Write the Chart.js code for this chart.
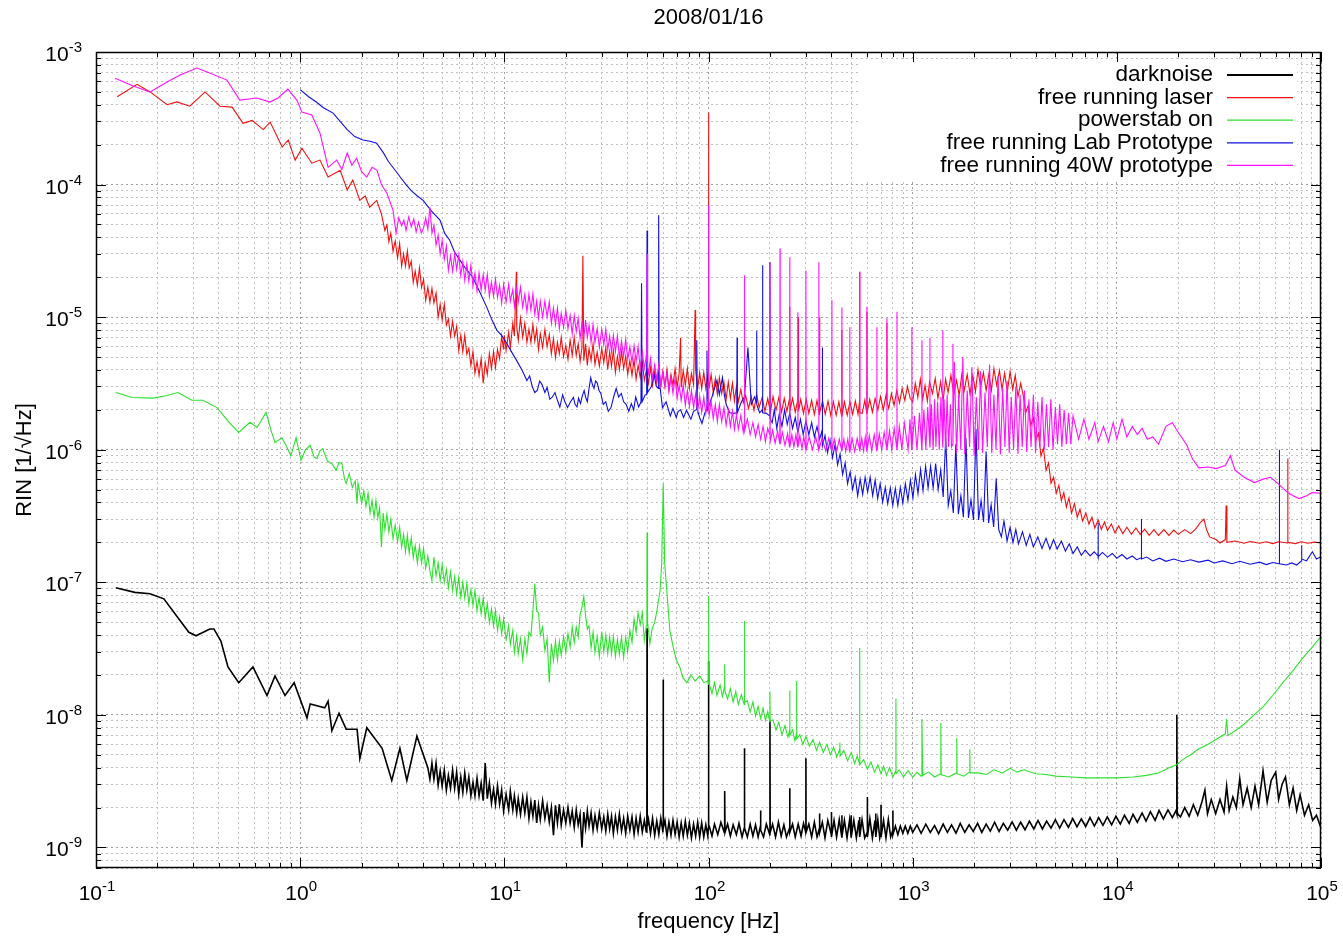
<!DOCTYPE html>
<html><head><meta charset="utf-8">
<script src="https://cdn.jsdelivr.net/npm/chart.js@4.4.1/dist/chart.umd.min.js"></script>
<style>html,body{margin:0;padding:0;background:#fff}#wrap{width:1343px;height:939px;position:relative}</style>
</head><body><div id="wrap"><canvas id="c"></canvas></div>
<script>
const chartTitle = '2008/01/16';
const xTitle = 'frequency [Hz]';
const yTitle = 'RIN [1/\u221AHz]';
const xMajorTicks = [0.1, 1, 10, 100, 1000, 10000, 100000];
const xTickExponents = ['-1', '0', '1', '2', '3', '4', '5'];
const yMajorTicks = [1e-9, 1e-8, 1e-7, 1e-6, 1e-5, 1e-4, 1e-3];
const yTickExponents = ['-9', '-8', '-7', '-6', '-5', '-4', '-3'];
const tickBase = '10';
const seriesNames = ['darknoise', 'free running laser', 'powerstab on', 'free running Lab Prototype', 'free running 40W prototype'];
const seriesColors = ['#000000', '#f01010', '#2ee02e', '#1010e0', '#ff10ff'];

const darknoise = [
[0.125,9.1e-8],[0.155,8.4e-8],[0.184,8.2e-8],[0.215,7.5e-8],[0.252,5.4e-8],[0.285,4.2e-8],[0.309,3.95e-8],[0.361,4.45e-8],[0.378,4.45e-8],[0.409,3.6e-8],[0.443,2.3e-8],[0.50,1.75e-8],[0.587,2.3e-8],[0.688,1.4e-8],[0.753,1.97e-8],[0.843,1.4e-8],[0.934,1.75e-8],[1.08,9.5e-9],[1.12,1.21e-8],[1.32,1.13e-8],[1.37,1.27e-8],[1.43,7.6e-9],[1.55,1.03e-8],[1.68,7.8e-9],[1.90,7.8e-9],[1.96,4.7e-9],[2.12,8.0e-9],[2.52,5.6e-9],[2.81,3.2e-9],[3.08,5.6e-9],[3.33,3.2e-9],[3.73,6.9e-9],[4.22,4.0e-9],
[4.32,3.27e-9],[4.42,4.33e-9],[4.52,3.27e-9],[4.63,4.33e-9],[4.74,2.95e-9],[4.85,3.77e-9],[4.96,2.9e-9],[5.08,3.83e-9],[5.2,2.7e-9],[5.32,3.5e-9],[5.45,2.8e-9],[5.58,3.83e-9],[5.71,2.8e-9],[5.84,3.7e-9],[5.98,2.52e-9],[6.12,3.4e-9],[6.26,2.6e-9],[6.4,3.64e-9],[6.55,2.7e-9],[6.7,3.4e-9],[6.86,2.45e-9],[7.02,3.1e-9],[7.18,2.45e-9],[7.35,3.33e-9],[7.52,2.45e-9],[7.7,3.06e-9],[7.88,2.25e-9],[8.06,4.33e-9],[8.25,2.33e-9],[8.45,3.06e-9],[8.65,2.16e-9],[8.85,2.75e-9],[9.05,2.12e-9],[9.26,2.9e-9],[9.48,2.12e-9],[9.7,2.7e-9],[9.92,1.88e-9],[10.2,2.52e-9],[10.5,1.92e-9],[10.7,2.66e-9],[11.0,1.92e-9],[11.2,2.45e-9],[11.5,1.82e-9],[11.7,2.33e-9],[12.0,1.78e-9],[12.3,2.4e-9],[12.6,1.82e-9],[12.9,2.4e-9],[13.2,1.66e-9],[13.5,2.2e-9],[13.8,1.72e-9],[14.1,2.28e-9],[14.4,1.53e-9],[14.7,2.08e-9],[15.0,1.63e-9],[15.4,2.25e-9],[15.8,1.66e-9],[16.2,2.08e-9],[16.6,1.56e-9],[17.0,2.0e-9],[17.4,1.24e-9],[17.8,2.08e-9],[18.2,1.53e-9],[18.6,2.12e-9],[19.0,1.48e-9],[19.5,1.92e-9],[20.0,1.53e-9],[20.5,2.0e-9],[21.0,1.53e-9],[21.5,1.88e-9],[22.0,1.42e-9],[22.5,1.92e-9],[23.0,1.48e-9],[23.5,1.78e-9],[24.0,1.0e-9],[24.5,1.85e-9],[25.0,1.4e-9],[25.5,1.88e-9],[26.0,1.45e-9],[26.6,1.82e-9],[27.2,1.35e-9],[27.8,1.74e-9],[28.5,1.38e-9],[29.2,1.82e-9],[30.0,1.38e-9],[30.7,1.7e-9],[31.4,1.33e-9],[32.1,1.78e-9],[32.8,1.38e-9],[33.5,1.72e-9],[34.2,1.28e-9],[35.0,1.7e-9],[35.8,1.35e-9],[36.6,1.78e-9],[37.5,1.33e-9],[38.4,1.66e-9],[39.3,1.28e-9],[40.2,1.72e-9],[41.2,1.35e-9],[42.2,1.7e-9],[43.2,1.26e-9],[44.2,1.66e-9],[45.2,1.31e-9],[46.3,1.72e-9],[47.4,1.31e-9],[48.5,1.6e-9],[49.6,1.31e-9],[49.9,1.45e-9],[50,4.5e-8],[50.1,1.45e-9],[50.8,1.63e-9],[52.0,1.28e-9],[53.2,1.66e-9],[54.5,1.24e-9],[55.8,1.58e-9],[57.1,1.26e-9],[58.4,1.66e-9],[59.8,1.31e-9],[59.9,1.4e-9],[60,1.85e-8],[60.1,1.4e-9],[61.2,1.6e-9],[62.6,1.22e-9],[64.0,1.55e-9],[65.5,1.24e-9],[67.0,1.6e-9],[68.6,1.26e-9],[70.2,1.55e-9],[71.8,1.2e-9],[73.5,1.53e-9],[75.2,1.22e-9],[77.0,1.58e-9],[78.8,1.24e-9],[80.6,1.53e-9],[82.5,1.18e-9],[84.5,1.5e-9],[86.5,1.22e-9],[88.5,1.55e-9],[90.5,1.2e-9],[92.6,1.53e-9],[94.8,1.2e-9],[97.0,1.48e-9],[99.2,1.22e-9],[99.8,1.4e-9],[100,2.55e-8],[100.3,1.45e-9],
[100.8,1.45e-9],[104,1.22e-9],[107,1.5e-9],[111,1.25e-9],[115,1.55e-9],[119.5,1.3e-9],[120,2.67e-9],[120.5,1.3e-9],[124,1.5e-9],[128,1.22e-9],[132,1.48e-9],[137,1.25e-9],[141,1.52e-9],[146,1.2e-9],[149.7,1.4e-9],[150,5.6e-9],[150.3,1.4e-9],[155,1.2e-9],[160,1.5e-9],[165,1.22e-9],[170,1.48e-9],[175,1.2e-9],[179.7,1.45e-9],[180,1.9e-9],[180.3,1.35e-9],[186,1.2e-9],[192,1.5e-9],[199.5,1.25e-9],[200,9e-9],[200.5,1.3e-9],[206,1.5e-9],[213,1.2e-9],[220,1.55e-9],[227,1.22e-9],[234,1.48e-9],[241,1.2e-9],[249.5,1.4e-9],[250,2.8e-9],[250.5,1.3e-9],[258,1.5e-9],[266,1.2e-9],[275,1.5e-9],[284,1.22e-9],[292,1.52e-9],[299.5,1.3e-9],[300,4.7e-9],[300.5,1.3e-9],[310,1.5e-9],[320,1.2e-9],[330,1.55e-9],[340,1.2e-9],[349.5,1.4e-9],[350,1.8e-9],[350.5,1.3e-9],[361,1.55e-9],[372,1.18e-9],[384,1.6e-9],[399.5,1.25e-9],[400,1.85e-9],[400.5,1.2e-9],[412,1.6e-9],[424,1.2e-9],[437,1.62e-9],[449.5,1.2e-9],[450,1.75e-9],[450.5,1.2e-9],[463,1.6e-9],[477,1.18e-9],[491,1.62e-9],[499.5,1.2e-9],[500,1.75e-9],[500.5,1.2e-9],[515,1.6e-9],[530,1.18e-9],[545,1.6e-9],[549.5,1.25e-9],[550,1.7e-9],[550.5,1.2e-9],[565,1.62e-9],[582,1.18e-9],[599.5,1.3e-9],[600,2.4e-9],[600.5,1.2e-9],[617,1.65e-9],[635,1.18e-9],[654,1.6e-9],[659.5,1.25e-9],[660,1.8e-9],[660.5,1.2e-9],[675,1.62e-9],[690,1.18e-9],[699.5,1.3e-9],[700,2.1e-9],[700.5,1.2e-9],[720,1.6e-9],[740,1.18e-9],[760,1.62e-9],[780,1.2e-9],[799.5,1.35e-9],[800,1.9e-9],[800.5,1.25e-9],[823,1.45e-9],[846,1.25e-9],[870,1.45e-9],[895,1.28e-9],[920,1.45e-9],[947,1.28e-9],[974,1.45e-9],
[1000,1.3e-9],[1050,1.48e-9],[1100,1.28e-9],[1160,1.5e-9],[1220,1.3e-9],[1280,1.46e-9],[1340,1.27e-9],[1410,1.5e-9],[1480,1.3e-9],[1550,1.48e-9],[1630,1.28e-9],[1710,1.52e-9],[1800,1.3e-9],[1890,1.48e-9],[1980,1.32e-9],[2080,1.52e-9],[2180,1.3e-9],[2290,1.5e-9],[2400,1.33e-9],[2520,1.55e-9],[2650,1.32e-9],[2780,1.52e-9],[2920,1.35e-9],[3070,1.56e-9],[3220,1.35e-9],[3380,1.55e-9],[3550,1.36e-9],[3730,1.58e-9],[3920,1.38e-9],[4110,1.6e-9],[4320,1.38e-9],[4530,1.58e-9],[4760,1.4e-9],[5000,1.62e-9],[5250,1.4e-9],[5510,1.62e-9],[5790,1.42e-9],[6080,1.65e-9],[6380,1.43e-9],[6700,1.64e-9],[7040,1.44e-9],[7390,1.68e-9],[7760,1.45e-9],[8150,1.68e-9],[8550,1.47e-9],[8980,1.7e-9],[9430,1.48e-9],[9900,1.72e-9],[10400,1.5e-9],[10900,1.75e-9],[11500,1.52e-9],[12000,1.78e-9],[12600,1.55e-9],[13300,1.82e-9],[13900,1.58e-9],[14600,1.86e-9],[15400,1.6e-9],[16100,1.9e-9],[16900,1.64e-9],[17800,1.92e-9],[18700,1.68e-9],[19500,1.9e-9],[19650,1.8e-9],[19700,1e-8],[19750,1.8e-9],[20500,1.7e-9],[21500,2.0e-9],[22600,1.72e-9],[23700,2.1e-9],[24900,1.75e-9],[26100,2.2e-9],[27000,2.7e-9],[27800,1.8e-9],[29000,2.3e-9],[30500,1.8e-9],[32000,2.3e-9],[33500,1.85e-9],[34500,2.9e-9],[35500,1.9e-9],[37000,2.4e-9],[38500,2.0e-9],[40000,3.3e-9],[41500,2.1e-9],[43500,2.8e-9],[45500,2.0e-9],[47500,2.9e-9],[49500,2.1e-9],[52000,3.8e-9],[54500,2.2e-9],[57000,3.2e-9],[60000,3.7e-9],[62000,2.3e-9],[64500,3.0e-9],[67000,3.4e-9],[70000,2.1e-9],[73000,2.8e-9],[76000,1.9e-9],[79000,2.5e-9],[83000,1.75e-9],[87000,2.1e-9],[91000,1.6e-9],[95000,1.75e-9],[100000,1.4e-9]
];

const freeRunningLaser = [
[0.127,4.6e-4],[0.159,5.7e-4],[0.184,5.0e-4],[0.223,4.0e-4],[0.249,4.2e-4],[0.288,3.9e-4],[0.342,5.0e-4],[0.405,3.9e-4],[0.464,3.84e-4],[0.525,2.9e-4],[0.582,3.05e-4],[0.659,2.6e-4],[0.713,2.96e-4],[0.816,1.92e-4],[0.874,2.17e-4],[0.945,1.53e-4],[1.02,1.88e-4],[1.14,1.45e-4],[1.25,1.53e-4],[1.37,1.14e-4],[1.57,1.28e-4],[1.70,9.1e-5],[1.81,1.08e-4],[1.96,7.6e-5],[2.08,8.2e-5],[2.19,6.75e-5],[2.37,7.6e-5],[2.5,6.0e-5],
[2.6,4.5e-5],[2.66,4.95e-5],[2.72,3.7e-5],[2.78,4.3e-5],[2.85,3.15e-5],[2.92,3.75e-5],[3.0,2.8e-5],[3.07,3.6e-5],[3.14,2.43e-5],[3.21,3.0e-5],[3.28,2.43e-5],[3.35,3.15e-5],[3.42,2.35e-5],[3.5,2.65e-5],[3.58,1.83e-5],[3.66,2.22e-5],[3.75,1.74e-5],[3.84,2.35e-5],[3.93,1.68e-5],[4.02,1.93e-5],[4.12,1.34e-5],[4.22,1.68e-5],[4.32,1.3e-5],[4.42,1.65e-5],[4.52,1.28e-5],[4.63,1.52e-5],[4.74,1.0e-5],[4.85,1.25e-5],[4.96,9.5e-6],[5.08,1.25e-5],[5.2,8.7e-6],[5.32,9.7e-6],[5.45,7.2e-6],[5.58,9.3e-6],[5.71,7.2e-6],[5.84,8.5e-6],[5.98,5.6e-6],[6.12,7.3e-6],[6.26,5.5e-6],[6.4,7.3e-6],[6.55,5.25e-6],[6.7,5.8e-6],[6.86,4.33e-6],[7.02,5.5e-6],[7.18,3.77e-6],[7.35,4.63e-6],[7.52,3.64e-6],[7.7,4.87e-6],[7.88,3.17e-6],[8.06,4.55e-6],[8.25,3.7e-6],[8.45,5.33e-6],[8.65,4.1e-6],[8.85,5.5e-6],[9.05,4.17e-6],[9.26,5.7e-6],[9.48,4.87e-6],[9.7,7.2e-6],[9.92,5.7e-6],[10.0,7.3e-6],[10.2,5.6e-6],[10.5,7.7e-6],[10.7,5.9e-6],[11.0,9.0e-6],[11.2,7.2e-6],[11.45,2.2e-5],[11.5,8.5e-6],[11.7,6.7e-6],[12.0,9.8e-6],[12.3,7.05e-6],[12.6,9.0e-6],[12.9,6.45e-6],[13.2,8.1e-6],[13.5,6.45e-6],[13.8,8.8e-6],[14.1,6.6e-6],[14.4,8.1e-6],[14.7,5.7e-6],[15.0,7.5e-6],[15.4,5.9e-6],[15.8,8.1e-6],[16.2,6.0e-6],[16.6,7.4e-6],[17.0,5.3e-6],[17.4,6.9e-6],[17.8,4.95e-6],[18.2,6.45e-6],[18.6,5.3e-6],[19.0,7.05e-6],[19.5,5.05e-6],[20.0,6.1e-6],[20.5,4.8e-6],[21.0,6.7e-6],[21.5,5.15e-6],[22.0,7.05e-6],[22.5,5.15e-6],[23.0,6.3e-6],[23.5,4.63e-6],[24.0,5.9e-6],[24.25,2.9e-5],[24.5,4.7e-6],[25.0,6.3e-6],[25.5,4.33e-6],[26.0,5.8e-6],[26.6,4.7e-6],[27.2,6.3e-6],[27.8,4.4e-6],[28.5,5.45e-6],[29.2,4.27e-6],[30.0,5.8e-6],[30.7,4.55e-6],[31.4,5.9e-6],[32.1,4.03e-6],[32.8,5.45e-6],[33.5,4.27e-6],[34.2,5.6e-6],[35.0,3.83e-6],[35.8,5.05e-6],[36.6,4.03e-6],[37.5,5.5e-6],[38.4,4.1e-6],[39.3,5.05e-6],[40.2,3.7e-6],[41.2,4.7e-6],[42.2,3.64e-6],[43.2,4.8e-6],[44.2,3.4e-6],[45.2,4.33e-6],[46.3,3.5e-6],[47.4,4.63e-6],[48.5,3.33e-6],[49.6,3.96e-6],[50.8,3.17e-6],[52.0,4.17e-6],[53.2,3.06e-6],[54.5,3.9e-6],[55.8,3.17e-6],[57.1,4.17e-6],[58.4,3.0e-6],[59.8,3.9e-6],[61.2,3.0e-6],[62.6,4.03e-6],[64.0,2.85e-6],[65.5,3.7e-6],[67.0,3.06e-6],[68.6,4.1e-6],[70.2,2.95e-6],[71.8,3.77e-6],[73,7.0e-6],[73.5,2.95e-6],[75.2,3.96e-6],[77.0,3.06e-6],[78.8,4.1e-6],[80.6,2.9e-6],[82.5,3.77e-6],[84.5,3.1e-6],[86,1.13e-5],[86.5,3.96e-6],[88.5,2.9e-6],[90.5,3.83e-6],[92.6,2.9e-6],[94.8,3.83e-6],[97.0,2.9e-6],[99.2,3.64e-6],[99.8,3.2e-6],[100,3.5e-4],[100.3,3.0e-6],[100.8,2.95e-6],
[103,3.7e-6],[105.5,2.7e-6],[108,3.45e-6],[110.5,2.62e-6],[113,3.5e-6],[116,2.66e-6],[119,3.24e-6],[122,2.4e-6],[125,3.24e-6],[128,2.44e-6],[131,3.17e-6],[134,2.33e-6],[137,3.0e-6],[140,2.3e-6],[144,2.85e-6],[148,2.25e-6],
[152,2.57e-6],[157,2.05e-6],[162,2.52e-6],[167,1.98e-6],[172,2.62e-6],[177,2.08e-6],[183,2.48e-6],[189,1.95e-6],[195,2.44e-6],[201,1.92e-6],[207,2.52e-6],[214,1.98e-6],[221,2.48e-6],[228,1.92e-6],[235,2.44e-6],[242,1.95e-6],[249,2.4e-6],[250,1.2e-5],[251,2.0e-6],[258,2.44e-6],[266,1.92e-6],[274,2.4e-6],[275,1.0e-5],[276,1.95e-6],[283,2.4e-6],[292,1.88e-6],[301,2.4e-6],[310,1.88e-6],[320,2.36e-6],[330,1.85e-6],[340,2.36e-6],[349,1.85e-6],[350,1.0e-5],[351,1.9e-6],[362,2.33e-6],[373,1.85e-6],[385,2.33e-6],[397,1.82e-6],[409,2.3e-6],[422,1.82e-6],[435,2.3e-6],[449,1.79e-6],[450,8e-6],[451,1.8e-6],[463,2.3e-6],[478,1.82e-6],[493,2.3e-6],[508,1.85e-6],[524,2.33e-6],[540,1.85e-6],[549,2.3e-6],[550,2.2e-5],[551,1.9e-6],[566,1.88e-6],[583,2.36e-6],[596,1.88e-6],[597,1.1e-5],[598,1.9e-6],[616,2.4e-6],[635,1.92e-6],[655,2.44e-6],[675,1.98e-6],[696,2.52e-6],[718,2.0e-6],[740,2.57e-6],[747,2.3e-6],[748,9e-6],[749,2.3e-6],[763,2.05e-6],[787,2.66e-6],[811,2.16e-6],[836,2.8e-6],[862,2.25e-6],[888,2.9e-6],[915,2.36e-6],[943,3.0e-6],[972,2.44e-6],
[1000,2.3e-6],[1030,3.17e-6],[1060,2.48e-6],[1090,3.4e-6],[1120,2.4e-6],[1150,3.06e-6],[1180,2.33e-6],[1210,3.24e-6],[1250,2.66e-6],[1290,3.45e-6],[1330,2.44e-6],[1370,3.24e-6],[1410,2.36e-6],[1450,3.4e-6],[1490,2.7e-6],[1540,3.64e-6],[1590,2.62e-6],[1640,3.33e-6],[1690,2.57e-6],[1740,3.7e-6],[1790,2.8e-6],[1850,3.7e-6],[1910,2.62e-6],[1970,3.64e-6],[2030,2.75e-6],[2090,4.03e-6],[2150,2.95e-6],[2220,3.83e-6],[2290,2.8e-6],[2360,3.7e-6],[2430,2.8e-6],[2500,4.1e-6],[2580,3.06e-6],[2660,3.96e-6],[2740,2.85e-6],[2820,3.77e-6],[2910,2.75e-6],[3000,3.9e-6],[3090,2.85e-6],[3180,3.64e-6],[3280,2.52e-6],[3380,3.17e-6],[3480,2.57e-6],[3580,1.9e-6],[3680,2.16e-6],[3790,1.53e-6],[3900,1.74e-6],[4010,1.18e-6],[4130,1.33e-6],[4250,9e-7],[4370,1.03e-6],[4500,7.0e-7],[4630,7.95e-7],[4760,5.6e-7],[4900,6.2e-7],[5050,4.7e-7],[5200,5.4e-7],[5350,4.14e-7],[5500,4.75e-7],[5660,3.7e-7],[5830,4.33e-7],[6000,3.33e-7],[6200,3.92e-7],[6400,3.1e-7],[6600,3.55e-7],[6800,2.9e-7],[7050,3.33e-7],[7300,2.75e-7],[7550,3.1e-7],[7800,2.57e-7],[8100,2.95e-7],[8400,2.5e-7],[8700,2.85e-7],[9000,2.46e-7],[9400,2.75e-7],[9800,2.36e-7],[10200,2.66e-7],[10700,2.33e-7],[11200,2.6e-7],[11800,2.3e-7],[12400,2.57e-7],[13000,2.3e-7],[13700,2.52e-7],[14400,2.26e-7],[15200,2.5e-7],[16000,2.26e-7],[17000,2.5e-7],[18000,2.26e-7],[19000,2.48e-7],[20000,2.3e-7],[21500,2.5e-7],[23000,2.33e-7],[24500,2.55e-7],[25500,2.8e-7],[26700,3.0e-7],[27500,2.5e-7],[28500,2.2e-7],[30600,2.1e-7],[32000,1.98e-7],[34000,2.1e-7],[34300,3.8e-7],[34600,2.0e-7],[38000,2.05e-7],[42000,1.97e-7],[45000,2.03e-7],[50000,1.97e-7],[54000,2.02e-7],[58000,1.96e-7],[62000,2.02e-7],[68500,1.98e-7],[68700,8.6e-7],[68900,2.0e-7],[75000,1.96e-7],[80000,2.02e-7],[86000,1.97e-7],[93000,2.01e-7],[100000,1.98e-7]
];

const powerstabOn = [
[0.125,2.7e-6],[0.15,2.48e-6],[0.19,2.45e-6],[0.22,2.55e-6],[0.252,2.7e-6],[0.295,2.36e-6],[0.334,2.36e-6],[0.391,2.08e-6],[0.45,1.6e-6],[0.50,1.35e-6],[0.568,1.61e-6],[0.615,1.47e-6],[0.681,1.91e-6],[0.72,1.4e-6],[0.753,1.13e-6],[0.814,1.23e-6],[0.86,1.05e-6],[0.90,9.0e-7],[0.955,1.23e-6],[1.01,8.3e-7],[1.06,1.0e-6],[1.12,1.08e-6],[1.17,8.8e-7],[1.21,8.6e-7],[1.25,9.8e-7],[1.29,1.02e-6],[1.36,8.2e-7],[1.43,7.85e-7],[1.5,7.0e-7],[1.55,8.0e-7],[1.6,7.85e-7],[1.65,6.0e-7],[1.68,5.55e-7],[1.74,6.6e-7],[1.8,5.2e-7],[1.86,5.8e-7],[1.9,3.92e-7],[1.92,5.6e-7],
[2.0,3.96e-7],[2.05,4.9e-7],[2.1,3.75e-7],[2.15,4.7e-7],[2.2,3.33e-7],[2.25,4.14e-7],[2.3,3.1e-7],[2.35,4.14e-7],[2.4,3.06e-7],[2.45,3.64e-7],[2.5,1.85e-7],[2.55,3.33e-7],[2.6,2.5e-7],[2.66,3.27e-7],[2.72,2.4e-7],[2.78,3.0e-7],[2.85,2.13e-7],[2.92,2.7e-7],[3.0,2.02e-7],[3.07,2.6e-7],[3.14,1.85e-7],[3.21,2.3e-7],[3.28,1.7e-7],[3.35,2.27e-7],[3.42,1.66e-7],[3.5,2.16e-7],[3.58,1.53e-7],[3.66,1.9e-7],[3.75,1.4e-7],[3.84,1.88e-7],[3.93,1.4e-7],[4.02,1.8e-7],[4.12,1.28e-7],[4.22,1.58e-7],[4.32,1.22e-7],[4.42,1.03e-7],[4.52,1.55e-7],[4.63,1.12e-7],[4.74,1.4e-7],[4.85,1.03e-7],[4.96,1.36e-7],[5.08,1.0e-7],[5.2,1.25e-7],[5.32,9.1e-8],[5.45,1.2e-7],[5.58,8.7e-8],[5.71,1.1e-7],[5.84,8.2e-8],[5.98,1.08e-7],[6.12,7.7e-8],[6.26,1.0e-7],[6.4,7.6e-8],[6.55,9.8e-8],[6.7,6.9e-8],[6.86,8.8e-8],[7.02,6.7e-8],[7.18,8.7e-8],[7.35,6.1e-8],[7.52,7.7e-8],[7.7,5.8e-8],[7.88,7.6e-8],[8.06,5.4e-8],[8.25,6.9e-8],[8.45,4.95e-8],[8.65,6.3e-8],[8.85,4.7e-8],[9.05,6.1e-8],[9.26,4.33e-8],[9.48,5.5e-8],[9.7,4.1e-8],[9.92,5.3e-8],[10.2,3.7e-8],[10.5,4.7e-8],[10.7,3.4e-8],[11.0,4.33e-8],[11.2,2.95e-8],[11.5,3.96e-8],[11.7,2.9e-8],[12.0,3.75e-8],[12.3,2.6e-8],[12.6,3.75e-8],[12.9,2.9e-8],[13.2,4.2e-8],[13.5,3.96e-8],[13.8,6.1e-8],[14.1,9.8e-8],[14.4,6.1e-8],[14.7,5.9e-8],[15.0,4.0e-8],[15.4,4.6e-8],[15.8,3.06e-8],[16.2,3.75e-8],[16.6,1.75e-8],[17.0,3.45e-8],[17.4,2.57e-8],[17.8,3.6e-8],[18.2,2.6e-8],[18.6,3.6e-8],[19.0,2.8e-8],[19.5,3.9e-8],[20.0,2.95e-8],[20.5,4.1e-8],[21.0,3.24e-8],[21.5,4.6e-8],[22.0,3.52e-8],[22.5,4.6e-8],[23.0,3.85e-8],[23.5,5.7e-8],[24.0,6.5e-8],[24.5,7.8e-8],[25.0,5.6e-8],[25.5,4.45e-8],[26.0,4.7e-8],[26.6,3.2e-8],[27.2,4.2e-8],[27.8,2.95e-8],[28.5,3.9e-8],[29.2,2.75e-8],[30.0,4.25e-8],[30.7,3.0e-8],[31.4,4.0e-8],[32.1,2.9e-8],[32.8,3.9e-8],[33.5,2.9e-8],[34.2,3.9e-8],[35.0,2.75e-8],[35.8,3.7e-8],[36.6,2.85e-8],[37.5,3.85e-8],[38.4,2.7e-8],[39.3,3.85e-8],[40.2,3.0e-8],[41.2,4.33e-8],[42.2,3.52e-8],[43.2,5.3e-8],[44.2,4.2e-8],[45.2,5.9e-8],[46.3,4.8e-8],[47.4,5.9e-8],[48.5,3.64e-8],[49.6,4.7e-8],[49.9,4.8e-8],[50,2.37e-7],[50.1,4.8e-8],[50.5,5e-8],[51.6,3.44e-8],[53,4.5e-8],[54.5,5.0e-8],[55.9,6.1e-8],[57.9,8.6e-8],[59,1.4e-7],[60,5.55e-7],[61,1.4e-7],[62.5,8.6e-8],[64.7,4.3e-8],[67,3.3e-8],[69.5,2.6e-8],[72.5,2.27e-8],[75,1.9e-8],[78.4,1.75e-8],[82,2.0e-8],[86,1.8e-8],[90.6,1.97e-8],[95,1.75e-8],[99,1.8e-8],[99.8,1.75e-8],[100,7.9e-8],[100.3,1.7e-8],
[101,1.7e-8],[104,1.45e-8],[107,1.75e-8],[110,1.4e-8],[114,1.68e-8],[117,1.38e-8],[119.5,1.6e-8],[120,2.4e-8],[120.5,1.5e-8],[124,1.32e-8],[128,1.58e-8],[132,1.25e-8],[136,1.5e-8],[140,1.2e-8],[145,1.42e-8],[149.5,1.2e-8],[150,5.1e-8],[150.5,1.25e-8],[155,1.28e-8],[160,1.05e-8],[165,1.25e-8],[170,9.8e-9],[175,1.16e-8],[180,9.4e-9],[185,1.12e-8],[190,9.1e-9],[195,1.06e-8],[199.5,8.9e-9],[200,1.5e-8],[200.5,9.0e-9],[207,9.2e-9],[214,7.7e-9],[221,8.8e-9],[229,7.1e-9],[237,8.3e-9],[245,6.8e-9],[249.5,7.6e-9],[250,1.53e-8],[250.5,7.0e-9],[258,7.7e-9],[265,6.4e-9],[269.5,7.2e-9],[270,1.8e-8],[270.5,6.6e-9],[280,7.1e-9],[290,6.0e-9],[300,6.9e-9],[312,5.8e-9],[325,6.5e-9],[338,5.4e-9],[350,6.2e-9],[365,5.2e-9],[380,6.0e-9],[395,5.0e-9],[410,5.7e-9],[425,4.8e-9],[439,5.5e-9],[440,6.2e-9],[441,4.9e-9],[460,5.4e-9],[480,4.5e-9],[500,5.2e-9],[520,4.3e-9],[535,4.9e-9],[549,4.3e-9],[550,3.2e-8],[551,4.2e-9],[575,4.6e-9],[600,3.9e-9],[625,4.4e-9],[650,3.7e-9],[675,4.2e-9],[700,3.6e-9],[720,4.1e-9],[745,3.5e-9],[770,4.0e-9],[800,3.4e-9],[827,3.8e-9],[828,1.33e-8],[829,3.6e-9],[860,3.85e-9],[900,3.4e-9],[950,3.8e-9],[1000,3.4e-9],[1050,3.7e-9],[1100,3.45e-9],[1110,9.3e-9],[1120,3.5e-9],[1200,3.7e-9],[1280,3.4e-9],[1370,3.6e-9],[1374,8.7e-9],[1380,3.55e-9],[1500,3.4e-9],[1640,3.65e-9],[1645,6.7e-9],[1650,3.6e-9],[1780,3.45e-9],[1900,3.7e-9],[1905,5.5e-9],[1910,3.65e-9],[2100,3.65e-9],[2300,3.55e-9],[2500,3.85e-9],[2750,3.65e-9],[3000,3.95e-9],[3250,3.7e-9],[3500,3.85e-9],[4000,3.6e-9],[4500,3.55e-9],[5000,3.45e-9],[6000,3.4e-9],[7000,3.35e-9],[8000,3.35e-9],[10000,3.35e-9],[12000,3.4e-9],[14000,3.5e-9],[16000,3.65e-9],[18000,4.0e-9],[19600,4.2e-9],[21000,4.6e-9],[23000,5.0e-9],[25000,5.5e-9],[28000,6.0e-9],[31000,6.6e-9],[34000,7.2e-9],[34500,9.3e-9],[35000,7.0e-9],[38000,7.6e-9],[42000,8.5e-9],[47000,1.0e-8],[52000,1.15e-8],[58000,1.4e-8],[65000,1.75e-8],[72000,2.1e-8],[80000,2.6e-8],[90000,3.2e-8],[100000,3.9e-8]
];

const labPrototype = [
[1.0,5.2e-4],[1.1,4.6e-4],[1.2,4.2e-4],[1.3,3.8e-4],[1.45,3.46e-4],[1.6,2.9e-4],[1.7,2.6e-4],[1.85,2.3e-4],[2.03,2.17e-4],[2.2,2.12e-4],[2.37,2.05e-4],[2.55,1.75e-4],[2.7,1.5e-4],[2.9,1.3e-4],[3.09,1.14e-4],[3.3,1.0e-4],[3.5,9.0e-5],[3.75,8.2e-5],[4.0,7.6e-5],[4.4,6.3e-5],[4.84,5.4e-5],[5.1,4.3e-5],[5.4,3.8e-5],[5.7,3.1e-5],[6.07,2.68e-5],[6.5,2.3e-5],[7.0,2.0e-5],[7.5,1.6e-5],[8.2,1.19e-5],[8.7,9.5e-6],[9.2,7.95e-6],[9.7,7.3e-6],[10.3,6.3e-6],[10.9,5.4e-6],[11.5,4.7e-6],[12.2,4.0e-6],[12.9,3.33e-6],[13.3,3.6e-6],[13.7,3.0e-6],[14.1,2.7e-6],[14.5,2.8e-6],[14.9,3.3e-6],[15.3,3.1e-6],[15.8,2.7e-6],[16.2,2.95e-6],[16.7,2.4e-6],[17.2,2.5e-6],[17.7,2.7e-6],[18.2,2.36e-6],[18.7,2.1e-6],[19.3,2.6e-6],[19.8,2.3e-6],[20.4,2.08e-6],[21.1,2.3e-6],[21.8,2.48e-6],[22.2,2.2e-6],[22.7,2.1e-6],[23.1,2.45e-6],[23.6,2.23e-6],[24.1,2.55e-6],[24.6,2.8e-6],[25.0,2.5e-6],[25.5,2.3e-6],[26.0,2.9e-6],[26.5,3.5e-6],[27.0,3.1e-6],[27.5,2.9e-6],[28.0,3.3e-6],[28.5,3.2e-6],[29.1,2.8e-6],[29.7,2.66e-6],[30.5,2.2e-6],[31.4,2.3e-6],[32.3,1.95e-6],[33.3,2.08e-6],[34.3,2.5e-6],[35.3,2.9e-6],[36.3,2.5e-6],[37.4,2.66e-6],[38.4,2.3e-6],[39.5,2.2e-6],[40.7,1.95e-6],[41.9,2.23e-6],[43,2.0e-6],[44,2.5e-6],[45.5,2.1e-6],[46.7,2.3e-6],[47,1.8e-5],[47.3,2.3e-6],[49,2.6e-6],[49.8,2.6e-6],[50,4.5e-5],[50.3,2.7e-6],[51,2.8e-6],[52.5,3.0e-6],[54,3.76e-6],[55.5,3.0e-6],[56.8,2.9e-6],[57,5.87e-5],[57.3,2.9e-6],[58,2.9e-6],[59.5,2.08e-6],[62,2.3e-6],[65,1.8e-6],[67,2.05e-6],[69.5,1.75e-6],[71,1.95e-6],[73,2.0e-6],[75.5,1.75e-6],[78,1.98e-6],[82,1.7e-6],[84.5,1.95e-6],[87,2.0e-6],[87.6,6.7e-6],[88.2,2e-6],[90.5,1.75e-6],[92.9,1.58e-6],[96,1.9e-6],[98,2.0e-6],[98.3,5.6e-6],[98.8,2.0e-6],[101,2.2e-6],[104,2.5e-6],[107,2.9e-6],[110,3.33e-6],[113,2.6e-6],[117,3.5e-6],[119.5,2.6e-6],[122,2.2e-6],[127,1.9e-6],[132,1.88e-6],[137.5,1.9e-6],[138,7.0e-6],[138.5,1.9e-6],[145,2.3e-6],[150,2.5e-6],[156,5.9e-6],[162,2.2e-6],[168,2.5e-6],[171.5,2.3e-6],[172,7.9e-6],[172.5,2.2e-6],[178,1.9e-6],[183.5,2.0e-6],[184,2.46e-5],[184.5,1.9e-6],[192,1.88e-6],[199.5,1.8e-6],[200,2.6e-5],[200.5,1.7e-6],
[205,1.6e-6],[210,2.0e-6],[216,1.45e-6],[222,1.85e-6],[229,1.5e-6],[236,2.0e-6],[243,1.55e-6],[250,1.9e-6],[258,1.45e-6],[266,1.75e-6],[274,1.35e-6],[282,1.7e-6],[291,1.3e-6],[300,1.65e-6],[310,1.3e-6],[320,1.6e-6],[330,1.25e-6],[340,1.5e-6],[350,1.2e-6],[360,1.4e-6],[361,5.9e-6],[362,1.07e-6],
[372,1.28e-6],[383,9.5e-7],[394,1.18e-6],[405,8.7e-7],[417,1.1e-6],[429,7.7e-7],[441,9.3e-7],[454,6.5e-7],[467,7.95e-7],[480,5.55e-7],[494,6.8e-7],[508,5.0e-7],[523,6.2e-7],[538,4.5e-7],[553,6.0e-7],[569,4.6e-7],[585,6.2e-7],[602,4.8e-7],[619,6.2e-7],[637,4.5e-7],[655,5.9e-7],[674,4.28e-7],[693,5.55e-7],[713,4.03e-7],[734,5.2e-7],[755,3.92e-7],[777,5.15e-7],[799,3.8e-7],[822,5.1e-7],[846,3.8e-7],[870,5.2e-7],[895,3.96e-7],[921,5.55e-7],[948,4.14e-7],[975,5.9e-7],[1003,4.33e-7],[1032,6.5e-7],[1062,4.67e-7],[1093,7.1e-7],[1124,4.9e-7],[1157,7.5e-7],[1190,5.15e-7],[1224,7.5e-7],[1260,5.15e-7],[1296,7.85e-7],[1333,5.0e-7],[1372,7.0e-7],[1411,4.4e-7],[1452,1.23e-6],[1494,3.8e-7],[1537,4.9e-7],[1582,3.33e-7],[1627,1.1e-6],[1674,3.27e-7],[1723,4.5e-7],[1772,3.1e-7],[1823,1.23e-6],[1876,3.06e-7],[1930,4.2e-7],[1986,2.95e-7],[2043,1.43e-6],[2102,2.95e-7],[2163,4.14e-7],[2225,2.85e-7],[2289,9.7e-7],[2355,2.8e-7],[2423,3.85e-7],[2493,2.62e-7],[2565,6.1e-7],[2639,2.5e-7],
[2720,2.2e-7],[2800,2.9e-7],[2900,2.05e-7],[3000,2.6e-7],[3100,2.0e-7],[3200,2.5e-7],[3300,1.95e-7],[3450,2.4e-7],[3600,1.9e-7],[3750,2.3e-7],[3900,1.85e-7],[4100,2.2e-7],[4300,1.8e-7],[4500,2.15e-7],[4700,1.78e-7],[4900,2.1e-7],[5100,1.78e-7],[5350,2.05e-7],[5600,1.72e-7],[5850,1.95e-7],[6100,1.65e-7],[6400,1.85e-7],[6700,1.6e-7],[7000,1.75e-7],[7400,1.58e-7],[7750,1.7e-7],[8090,1.58e-7],[8100,2.8e-7],[8110,1.56e-7],[8500,1.68e-7],[9000,1.55e-7],[9500,1.65e-7],[10000,1.52e-7],[10600,1.62e-7],[11200,1.5e-7],[11900,1.58e-7],[12500,1.48e-7],[13190,1.53e-7],[13200,3.0e-7],[13210,1.5e-7],[14000,1.55e-7],[15000,1.45e-7],[16200,1.52e-7],[17400,1.44e-7],[19000,1.5e-7],[21000,1.43e-7],[23000,1.48e-7],[25200,1.42e-7],[28000,1.47e-7],[30000,1.4e-7],[33000,1.45e-7],[36700,1.38e-7],[40000,1.44e-7],[45000,1.37e-7],[50000,1.42e-7],[54000,1.36e-7],[58000,1.41e-7],[62300,1.38e-7],[62500,1.0e-6],[62700,1.38e-7],[67700,1.35e-7],[72000,1.4e-7],[76000,1.35e-7],[80300,1.45e-7],[80400,1.9e-7],[80500,1.5e-7],[85000,1.45e-7],[90700,1.7e-7],[95000,1.5e-7],[100000,1.56e-7]
];

const prototype40W = [
[0.124,6.35e-4],[0.152,5.53e-4],[0.184,5.0e-4],[0.223,5.93e-4],[0.258,6.7e-4],[0.312,7.57e-4],[0.35,7.06e-4],[0.438,6.14e-4],[0.506,4.34e-4],[0.614,4.5e-4],[0.71,4.19e-4],[0.78,4.5e-4],[0.87,5.25e-4],[0.963,4.34e-4],[1.02,3.52e-4],[1.14,3.35e-4],[1.25,2.45e-4],[1.37,1.35e-4],[1.51,1.53e-4],[1.60,1.3e-4],[1.70,1.73e-4],[1.79,1.4e-4],[1.89,1.58e-4],[2.0,1.25e-4],[2.12,1.14e-4],[2.25,1.35e-4],[2.38,1.28e-4],[2.5,1.0e-4],[2.66,8.6e-5],[2.85,6.4e-5],
[2.95,4.3e-5],[3.04,5.6e-5],[3.14,4.9e-5],[3.22,5.4e-5],[3.3,4.5e-5],[3.4,5.7e-5],[3.5,4.8e-5],[3.6,5.5e-5],[3.7,4.4e-5],[3.8,5.2e-5],[3.92,4.3e-5],[4.02,4.7e-5],[4.12,5.6e-5],[4.22,4.6e-5],[4.32,6.75e-5],[4.42,4.3e-5],[4.52,4.95e-5],[4.63,3.5e-5],[4.74,4.16e-5],[4.85,3.0e-5],[4.96,3.8e-5],[5.08,2.73e-5],[5.2,3.43e-5],[5.32,2.26e-5],[5.45,2.9e-5],[5.58,2.22e-5],[5.71,3.0e-5],[5.84,2.3e-5],[5.98,2.94e-5],[6.12,2.07e-5],[6.26,2.62e-5],[6.4,1.9e-5],[6.55,2.52e-5],[6.7,1.87e-5],[6.86,2.47e-5],[7.02,1.71e-5],[7.18,2.15e-5],[7.35,1.57e-5],[7.52,2.15e-5],[7.7,1.6e-5],[7.88,2.1e-5],[8.06,1.6e-5],[8.25,2.1e-5],[8.45,1.44e-5],[8.65,1.83e-5],[8.85,1.44e-5],[9.05,1.93e-5],[9.26,1.41e-5],[9.48,1.74e-5],[9.7,1.28e-5],[9.92,1.77e-5],[10.2,1.3e-5],[10.5,1.77e-5],[10.7,1.32e-5],[11.0,1.62e-5],[11.2,1.21e-5],[11.5,1.65e-5],[11.7,1.3e-5],[12.0,1.68e-5],[12.3,1.19e-5],[12.6,1.49e-5],[12.9,1.1e-5],[13.2,1.49e-5],[13.5,1.13e-5],[13.8,1.49e-5],[14.1,1.05e-5],[14.4,1.32e-5],[14.7,9.8e-6],[15.0,1.32e-5],[15.4,1.0e-5],[15.8,1.32e-5],[16.2,1.0e-5],[16.6,1.3e-5],[17.0,9.0e-6],[17.4,1.17e-5],[17.8,8.8e-6],[18.2,1.17e-5],[18.6,8.2e-6],[19.0,1.07e-5],[19.5,8.35e-6],[20.0,1.13e-5],[20.5,8.2e-6],[21.0,1.03e-5],[21.5,7.5e-6],[22.0,1.03e-5],[22.5,7.8e-6],[23.0,9.8e-6],[23.5,6.9e-6],[24.0,9.0e-6],[24.5,6.9e-6],[25.0,9.5e-6],[25.5,7.05e-6],[26.0,8.7e-6],[26.6,6.45e-6],[27.2,8.8e-6],[27.8,6.45e-6],[28.5,8.2e-6],[29.2,5.9e-6],[30.0,8.1e-6],[30.7,6.2e-6],[31.4,8.1e-6],[32.1,5.7e-6],[32.8,7.2e-6],[33.5,5.45e-6],[34.2,7.3e-6],[35.0,5.5e-6],[35.8,7.2e-6],[36.6,4.95e-6],[37.5,6.6e-6],[38.4,5.05e-6],[39.3,6.8e-6],[40.2,4.8e-6],[41.2,6.0e-6],[42.2,4.55e-6],[43.2,6.1e-6],[44.2,4.63e-6],[45.2,6.0e-6],[46.3,4.1e-6],[47.4,5.45e-6],[48.5,4.1e-6],[49.6,5.15e-6],[49.8,4.6e-6],[50,3.0e-5],[50.3,4.2e-6],[50.8,3.77e-6],[52.0,4.87e-6],[53.2,3.45e-6],[54.5,4.4e-6],[55.8,3.4e-6],[57.1,4.4e-6],[58.4,3.06e-6],[59.8,3.83e-6],[61.2,3.0e-6],[62.6,3.83e-6],[64.0,2.75e-6],[65.5,3.5e-6],[67.0,2.66e-6],[68.6,3.45e-6],[70.2,2.44e-6],[71.8,3.06e-6],[73.5,2.36e-6],[75.2,3.1e-6],[77.0,2.16e-6],[78.8,2.8e-6],[80.6,2.12e-6],[82.5,2.8e-6],[84.5,2.08e-6],[86.5,2.66e-6],[88.5,1.95e-6],[90.5,2.52e-6],[92.6,1.92e-6],[94.8,2.48e-6],[97.0,1.88e-6],[99.2,2.33e-6],[99.8,2.2e-6],[100,7e-5],[100.3,2.0e-6],[100.8,1.82e-6],
[103,2.33e-6],[105.5,1.72e-6],[108,2.2e-6],[110.5,1.63e-6],[113,2.2e-6],[116,1.63e-6],[119,2.08e-6],[122,1.53e-6],[125,1.98e-6],[128,1.5e-6],[131,1.95e-6],[134,1.43e-6],[137,1.85e-6],[140,1.43e-6],[144,1.82e-6],[148,1.36e-6],[149.5,1.56e-6],[150,2.07e-5],[150.5,1.4e-6],[155,1.7e-6],[160,1.3e-6],[165,1.6e-6],[170,1.25e-6],[175,1.55e-6],[180,1.2e-6],[185,1.5e-6],[190,1.15e-6],[195,1.45e-6],[199.5,1.3e-6],[200,2.6e-5],[200.5,1.15e-6],[206,1.4e-6],[212,1.12e-6],[218,1.38e-6],[223.5,1.1e-6],[224,3.3e-5],[224.5,1.1e-6],[230,1.35e-6],[237,1.08e-6],[244,1.33e-6],[249.5,1.05e-6],[250,2.83e-5],[250.5,1.05e-6],[256,1.3e-6],[262,1.05e-6],[268,1.3e-6],[273.5,1.05e-6],[274,1.09e-5],[274.5,1.05e-6],[280,1.28e-6],[287,1.02e-6],[293,1.26e-6],[299.5,1.0e-6],[300,2.25e-5],[300.5,1.0e-6],[311,1.25e-6],[323,1.0e-6],[335,1.25e-6],[346.5,1.0e-6],[347,2.6e-5],[347.5,1.0e-6],[360,1.22e-6],[375,9.8e-7],[388,1.22e-6],[401.5,9.8e-7],[402,1.34e-5],[402.5,9.8e-7],[413,1.2e-6],[425,9.8e-7],[437,1.2e-6],[449.5,9.8e-7],[450,1.18e-5],[450.5,9.8e-7],[460,1.2e-6],[470,9.7e-7],[481,1.2e-6],[491.5,9.6e-7],[492,8.4e-6],[492.5,9.6e-7],[505,1.22e-6],[520,9.7e-7],[535,1.22e-6],[550.5,9.8e-7],[551,2.2e-5],[551.5,9.8e-7],[563,1.22e-6],[575,9.8e-7],[586,1.25e-6],[596.5,9.7e-7],[597,1.2e-5],[597.5,9.7e-7],[613,1.28e-6],[630,9.8e-7],[648,1.3e-6],[667.5,9.8e-7],[668,8.4e-6],[668.5,9.8e-7],[686,1.32e-6],[705,1.0e-6],[725,1.35e-6],[747.5,1.0e-6],[748,9.8e-6],[748.5,1.0e-6],[770,1.4e-6],[790,1.0e-6],[812,1.45e-6],[837.5,1.0e-6],[838,1.1e-5],[838.5,1.0e-6],[860,1.5e-6],[885,1.0e-6],[910,1.6e-6],[950,1.0e-6],[970,1.7e-6],[990,1.0e-6],[991,8.4e-6],[992,1.0e-6],[1020,1.8e-6],[1050,1.0e-6],[1080,1.9e-6],[1109,1.0e-6],[1110,6.7e-6],[1111,1.05e-6],[1135,2.0e-6],[1160,1.0e-6],[1185,2.1e-6],[1214,1.05e-6],[1215,7.0e-6],[1216,1.05e-6],[1235,2.2e-6],[1260,1.0e-6],[1280,2.4e-6],[1300,1.05e-6],[1325,2.3e-6],[1350,1.0e-6],[1375,2.5e-6],[1404,1.05e-6],[1405,7.95e-6],[1406,1.1e-6],[1425,2.4e-6],[1450,1.0e-6],[1475,2.6e-6],[1500,1.05e-6],[1530,2.2e-6],[1550,1.05e-6],[1573,1.1e-6],[1574,6.3e-6],[1575,1.1e-6],
[1600,4.6e-6],[1640,9.5e-7],[1680,2.6e-6],[1720,1.0e-6],[1760,5.0e-6],[1800,9.2e-7],[1850,2.8e-6],[1900,1.05e-6],[1950,4.2e-6],[2000,9.0e-7],[2050,2.5e-6],[2100,1.0e-6],[2150,3.9e-6],[2200,9.5e-7],[2260,2.7e-6],[2320,1.05e-6],[2380,4.4e-6],[2440,9.4e-7],[2500,2.6e-6],[2560,1.0e-6],[2620,3.6e-6],[2690,9.2e-7],[2760,2.9e-6],[2830,1.05e-6],[2900,3.3e-6],[2970,9.5e-7],[3040,2.5e-6],[3120,1.0e-6],[3200,3.0e-6],[3280,9.3e-7],[3360,2.6e-6],[3440,1.05e-6],[3530,2.8e-6],[3620,9.6e-7],[3710,2.4e-6],[3800,1.05e-6],[3900,2.6e-6],[4000,9.5e-7],[4100,2.3e-6],[4200,1.05e-6],[4300,2.5e-6],[4410,1.0e-6],[4520,2.2e-6],[4630,1.05e-6],[4750,2.4e-6],[4870,1.0e-6],[5000,2.1e-6],[5120,1.1e-6],[5250,2.2e-6],[5380,1.05e-6],[5520,2.0e-6],[5660,1.1e-6],[5800,1.9e-6],[5950,1.1e-6],[6100,1.8e-6],[6500,1.2e-6],[6900,1.7e-6],[7300,1.2e-6],[7800,1.6e-6],[8100,1.15e-6],[8600,1.5e-6],[9100,1.15e-6],[9600,1.6e-6],[10000,1.2e-6],[10600,1.7e-6],[11200,1.25e-6],[11900,1.5e-6],[12600,1.3e-6],[13300,1.45e-6],[14100,1.2e-6],[15000,1.25e-6],[16000,1.1e-6],[17400,1.5e-6],[18700,1.6e-6],[20000,1.35e-6],[21900,1.1e-6],[23500,8.5e-7],[25200,7.3e-7],[28000,7.4e-7],[30600,7.2e-7],[34000,7.6e-7],[36000,9.0e-7],[37900,7.0e-7],[42000,6.2e-7],[47200,5.65e-7],[52000,6.0e-7],[56600,6.2e-7],[62000,5.5e-7],[69600,4.67e-7],[78000,4.28e-7],[85000,4.5e-7],[90700,4.75e-7],[100000,4.7e-7]
];

const FONT = "'Liberation Sans', Arial, Helvetica, sans-serif";
const xRange = [0.1, 1e5];
const yRange = [7e-10, 1e-3];

function decadeTicks(min, max) {
  const out = [];
  const e0 = Math.floor(Math.log10(min)), e1 = Math.ceil(Math.log10(max));
  for (let e = e0; e <= e1; e++) {
    for (let m = 1; m <= 9; m++) {
      const v = Number((m * Math.pow(10, e)).toPrecision(4));
      if (v >= min * 0.9999 && v <= max * 1.0001) out.push({ value: v });
    }
  }
  return out;
}
function majorIndex(list, v) {
  return list.findIndex(m => Math.abs(m - v) / m < 1e-6);
}
const toXY = arr => arr.map(p => ({ x: p[0], y: p[1] }));
const allSeries = [darknoise, freeRunningLaser, powerstabOn, labPrototype, prototype40W];
const widths = [1.6, 1.1, 1.1, 1.1, 1.1];

function drawPower(ctx, exp, x, baseline, align) {
  ctx.font = '21px ' + FONT;
  const wb = ctx.measureText(tickBase).width;
  ctx.font = '15px ' + FONT;
  const we = ctx.measureText(exp).width;
  const x0 = align === 'right' ? x - wb - we : x - (wb + we) / 2;
  ctx.textAlign = 'left';
  ctx.textBaseline = 'alphabetic';
  ctx.fillStyle = '#000';
  ctx.font = '21px ' + FONT;
  ctx.fillText(tickBase, x0, baseline);
  ctx.font = '15px ' + FONT;
  ctx.fillText(exp, x0 + wb, baseline - 9);
}

const framePlugin = {
  id: 'frameTicks',
  afterDatasetsDraw(chart) {
    const { ctx, chartArea: a, scales: { x, y } } = chart;
    ctx.save();
    ctx.fillStyle = '#ffffff';
    ctx.fillRect(a.right - 461, a.top + 8, 437, 121);
    ctx.font = '22.5px ' + FONT;
    ctx.textAlign = 'right';
    ctx.textBaseline = 'middle';
    chart.data.datasets.forEach((ds, i) => {
      const ty = a.top + 23 + i * 22.6;
      ctx.fillStyle = '#000';
      ctx.fillText(ds.label, a.right - 108, ty);
      ctx.strokeStyle = ds.borderColor;
      ctx.lineWidth = i === 0 ? 2.2 : 1.3;
      ctx.beginPath();
      ctx.moveTo(a.right - 94, ty);
      ctx.lineTo(a.right - 28, ty);
      ctx.stroke();
    });
    ctx.strokeStyle = '#000';
    ctx.lineWidth = 1;
    ctx.beginPath();
    x.ticks.forEach(t => {
      const px = Math.round(x.getPixelForValue(t.value)) + 0.5;
      const len = majorIndex(xMajorTicks, t.value) >= 0 ? 10 : 5;
      ctx.moveTo(px, a.bottom); ctx.lineTo(px, a.bottom - len);
      ctx.moveTo(px, a.top); ctx.lineTo(px, a.top + len);
    });
    y.ticks.forEach(t => {
      const py = Math.round(y.getPixelForValue(t.value)) + 0.5;
      const len = majorIndex(yMajorTicks, t.value) >= 0 ? 10 : 5;
      ctx.moveTo(a.left, py); ctx.lineTo(a.left + len, py);
      ctx.moveTo(a.right, py); ctx.lineTo(a.right - len, py);
    });
    ctx.stroke();
    ctx.lineWidth = 1.5;
    ctx.strokeRect(Math.round(a.left) + 0.5, Math.round(a.top) + 0.5, Math.round(a.right - a.left) - 1, Math.round(a.bottom - a.top) - 1);
    xMajorTicks.forEach((v, i) => {
      drawPower(ctx, xTickExponents[i], x.getPixelForValue(v) + 1, a.bottom + 32, 'center');
    });
    yMajorTicks.forEach((v, i) => {
      drawPower(ctx, yTickExponents[i], a.left - 14, y.getPixelForValue(v) + 9, 'right');
    });
    ctx.restore();
  }
};

const gridColor = (majors) => (c) => (c.tick && majorIndex(majors, c.tick.value) >= 0) ? '#a0a0a0' : '#c0c0c0';

new Chart(document.getElementById('c'), {
  type: 'scatter',
  data: {
    datasets: allSeries.map((s, i) => ({
      label: seriesNames[i],
      data: toXY(s),
      showLine: true,
      borderColor: seriesColors[i],
      backgroundColor: seriesColors[i],
      borderWidth: widths[i],
      pointRadius: 0,
      pointHoverRadius: 0,
      tension: 0,
      fill: false,
      order: 5 - i
    }))
  },
  options: {
    responsive: true,
    maintainAspectRatio: false,
    animation: false,
    devicePixelRatio: 1,
    layout: { padding: { left: 0, right: 22, top: 0, bottom: 0 } },
    plugins: {
      legend: { display: false },
      tooltip: { enabled: false },
      title: {
        display: true, text: chartTitle, fullSize: false, color: '#000',
        font: { family: FONT, size: 22, weight: 'normal', lineHeight: 1.2 },
        padding: { top: 5, bottom: 20.6 }
      }
    },
    scales: {
      x: {
        type: 'logarithmic', min: xRange[0], max: xRange[1],
        afterBuildTicks: s => { s.ticks = decadeTicks(xRange[0], xRange[1]); },
        afterFit: s => { s.height = 71; },
        ticks: { display: false, autoSkip: false },
        grid: { color: gridColor(xMajorTicks), lineWidth: 1, drawTicks: false },
        border: { display: false, dash: [2, 3] },
        title: { display: true, text: xTitle, color: '#000', font: { family: FONT, size: 22, lineHeight: 1.2 }, padding: { top: 0, bottom: 3.8 } }
      },
      y: {
        type: 'logarithmic', min: yRange[0], max: yRange[1],
        afterBuildTicks: s => { s.ticks = decadeTicks(yRange[0], yRange[1]); },
        afterFit: s => { s.width = 96; },
        ticks: { display: false, autoSkip: false },
        grid: { color: gridColor(yMajorTicks), lineWidth: 1, drawTicks: false },
        border: { display: false, dash: [2, 3] },
        title: { display: true, text: yTitle, color: '#000', font: { family: FONT, size: 22, lineHeight: 1.2 }, padding: { top: 11.8, bottom: 0 } }
      }
    }
  },
  plugins: [framePlugin]
});
</script>
</body></html>
